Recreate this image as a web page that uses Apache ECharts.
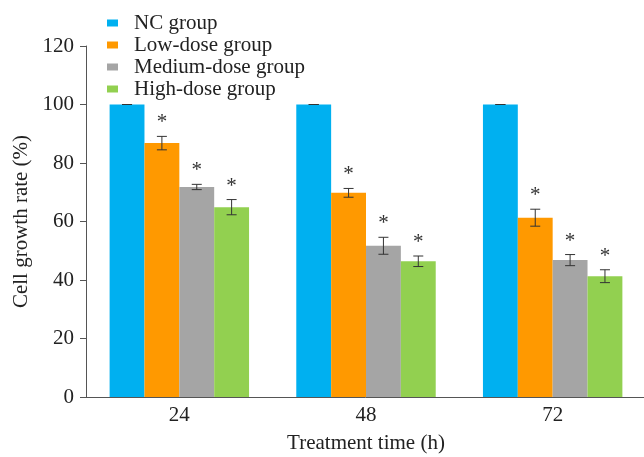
<!DOCTYPE html>
<html><head><meta charset="utf-8">
<script src="https://cdn.jsdelivr.net/npm/echarts@6/dist/echarts.min.js"></script>
<style>html,body{margin:0;padding:0;background:#fff}#c{width:644px;height:457px}</style>
</head><body><div id="c"></div>
<script>
var categories = ['24', '48', '72'];
var seriesNames = ['NC group', 'Low-dose group', 'Medium-dose group', 'High-dose group'];
var ncValues = [100, 100, 100];
var lowValues = [86.8, 69.8, 61.3];
var mediumValues = [71.8, 51.7, 46.8];
var highValues = [64.9, 46.4, 41.3];
var ncErrors = [0, 0, 0];
var lowErrors = [2.3, 1.5, 2.9];
var mediumErrors = [0.9, 2.9, 1.9];
var highErrors = [2.6, 1.8, 2.2];
var significant = [false, true, true, true];
var yTicks = [0, 20, 40, 60, 80, 100, 120];
var colors = ['#00B0F0', '#FF9900', '#A5A5A5', '#92D050'];

var values = [ncValues, lowValues, mediumValues, highValues];
var errors = [ncErrors, lowErrors, mediumErrors, highErrors];
var catGap = 0.253;
var font = '"Liberation Serif","Times New Roman",serif';

var series = [];
values.forEach(function (vals, i) {
  series.push({
    name: seriesNames[i], type: 'bar', data: vals, barGap: '0%', barCategoryGap: (catGap * 100) + '%',
    itemStyle: { color: colors[i] }, z: 2
  });
});
values.forEach(function (vals, i) {
  var data = vals.map(function (v, j) { return [j, v, errors[i][j]]; });
  series.push({
    type: 'custom', silent: true, z: 5,
    data: data,
    renderItem: function (params, api) {
      var j = api.value(0), v = api.value(1), e = api.value(2);
      var band = api.size([1, 0])[0];
      var gw = band * (1 - catGap), bw = gw / 4;
      var c = api.coord([j, v]);
      var x = c[0] - gw / 2 + bw * (i + 0.5);
      var top = api.coord([j, v + e])[1], bot = api.coord([j, v - e])[1];
      var cap = 5;
      var children = [
        { type: 'line', shape: { x1: x, y1: top, x2: x, y2: bot }, style: { stroke: '#333', lineWidth: 1 } },
        { type: 'line', shape: { x1: x - cap, y1: top, x2: x + cap, y2: top }, style: { stroke: '#333', lineWidth: 1 } },
        { type: 'line', shape: { x1: x - cap, y1: bot, x2: x + cap, y2: bot }, style: { stroke: '#333', lineWidth: 1 } }
      ];
      if (significant[i]) {
        children.push({ type: 'text', style: { text: '*', x: x, y: top - 3, textAlign: 'center', textVerticalAlign: 'bottom', font: '21px ' + font, fill: '#333' } });
      }
      return { type: 'group', children: children };
    }
  });
});

var chart = echarts.init(document.getElementById('c'), null, { renderer: 'canvas' });
chart.setOption({
  animation: false,
  backgroundColor: '#fff',
  textStyle: { fontFamily: font },
  legend: {
    orient: 'vertical', left: 102, top: 7, itemWidth: 11, itemHeight: 7, itemGap: 0,
    icon: 'rect',
    data: seriesNames,
    textStyle: { fontFamily: font, fontSize: 21, color: '#222', lineHeight: 22, padding: [0, 0, 0, 11] }
  },
  grid: { left: 86, right: -2, top: 46, bottom: 60, containLabel: false, outerBoundsMode: 'none' },
  xAxis: {
    type: 'category', data: categories,
    name: 'Treatment time (h)', nameLocation: 'middle', nameGap: 36,
    nameTextStyle: { fontFamily: font, fontSize: 21, color: '#222' },
    axisLine: { lineStyle: { color: '#555', width: 1 } },
    axisTick: { show: false },
    axisLabel: { fontFamily: font, fontSize: 21, color: '#222', margin: 8 }
  },
  yAxis: {
    type: 'value', min: 0, max: 120, interval: 20,
    name: 'Cell growth rate (%)', nameLocation: 'middle', nameGap: 51,
    nameTextStyle: { fontFamily: font, fontSize: 21, color: '#222' },
    axisLine: { show: true, lineStyle: { color: '#555', width: 1 } },
    axisTick: { show: true, length: 6, lineStyle: { color: '#555' } },
    splitLine: { show: false },
    axisLabel: { fontFamily: font, fontSize: 21, color: '#222', margin: 12,
      formatter: function (v) { return yTicks.indexOf(v) >= 0 ? String(v) : ''; } }
  },
  series: series
});
</script></body></html>
